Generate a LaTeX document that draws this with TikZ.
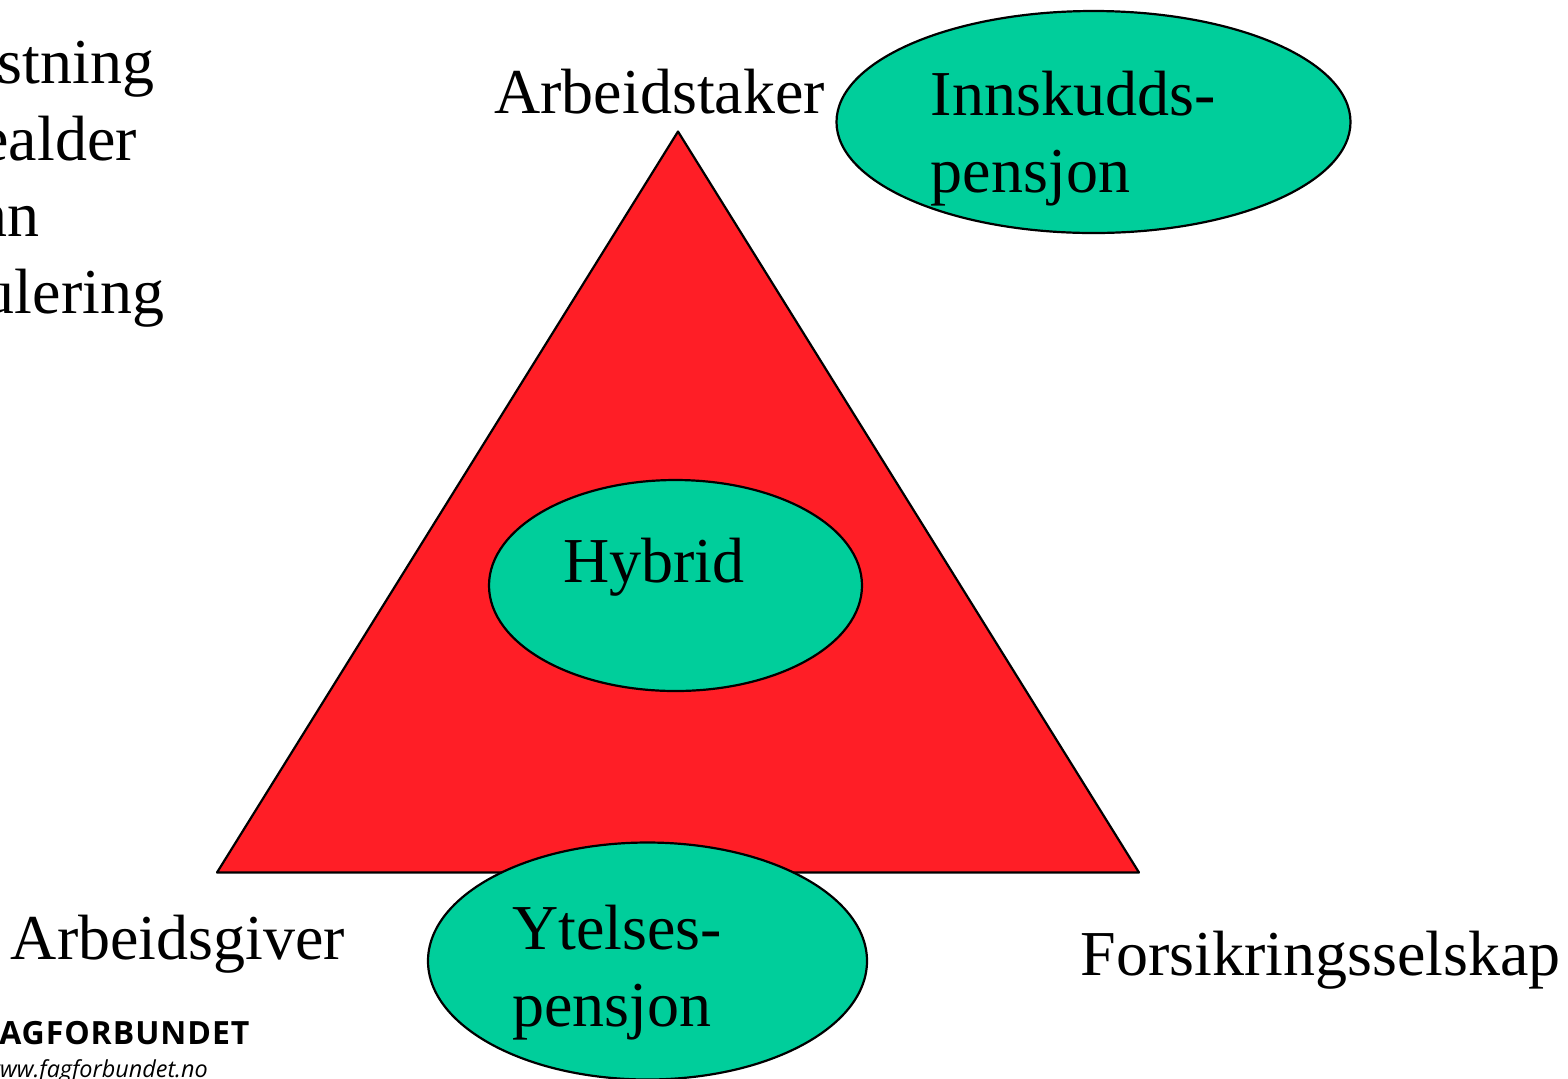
\documentclass[tikz,border=0pt]{standalone}
\usepackage{fontspec}
\setmainfont{Liberation Serif}
\newfontfamily\logofont[LetterSpace=3]{Open Sans}
\newfontfamily\webfont{Open Sans}
\usetikzlibrary{shapes.geometric}
\definecolor{tealgreen}{RGB}{0,206,155}
\definecolor{trired}{RGB}{255,30,38}
\tikzset{
  blob/.style={draw=black,fill=tealgreen,line width=1.1pt,ellipse,inner sep=0pt,minimum width=#1},
  lbl/.style={inner sep=0pt,anchor=base west,font=\fontsize{32pt}{38pt}\selectfont,align=left},
}
\begin{document}
\begin{tikzpicture}[x=0.5pt,y=-0.5pt]
\useasboundingbox (0,0) rectangle (1568,1078);
\fill[white] (0,0) rectangle (1568,1078);
\begin{scope}
\clip (0,0) rectangle (1568,1078);
\coordinate (top) at (678,131.5);
\coordinate (bl) at (217,872.5);
\coordinate (br) at (1139,872.5);
\draw[fill=trired,line width=1.1pt,line join=round] (top) -- (br) -- (bl) -- cycle;
\node[blob=257pt,minimum height=111pt] (inn) at (1093.5,122) {};
\node[blob=186.5pt,minimum height=105.5pt] (hyb) at (675.5,585.5) {};
\node[blob=219.5pt,minimum height=118.5pt] (yte) at (647.5,961) {};
\node[lbl] (t1) at (-2.5,83) {stning};
\node[lbl] (t2) at (-20,160) {ealder};
\node[lbl] (t3) at (-24.5,236.5) {nn};
\node[lbl] (t4) at (-17.5,313.5) {ulering};
\node[lbl] (arbt) at (494,113) {Arbeidstaker};
\node[lbl] (innt) at (930.5,115.5) {Innskudds-};
\node[lbl] (innp) at (930.5,192) {pensjon};
\node[lbl] (hybt) at (563,582) {Hybrid};
\node[lbl] (arbg) at (10.5,959.5) {Arbeidsgiver};
\node[lbl] (ytet) at (512,949) {Ytelses-};
\node[lbl] (ytep) at (512,1026) {pensjon};
\node[lbl] (fors) at (1080.5,975) {Forsikringsselskap};
\node[inner sep=0pt,anchor=base west,font=\logofont\bfseries\fontsize{16pt}{18pt}\selectfont] (logo) at (-19,1044) {FAGFORBUNDET};
\node[inner sep=0pt,anchor=base west,font=\webfont\itshape\fontsize{11.7pt}{14pt}\selectfont] (www) at (-17,1077.5) {www.fagforbundet.no};
\end{scope}
\end{tikzpicture}
\end{document}
